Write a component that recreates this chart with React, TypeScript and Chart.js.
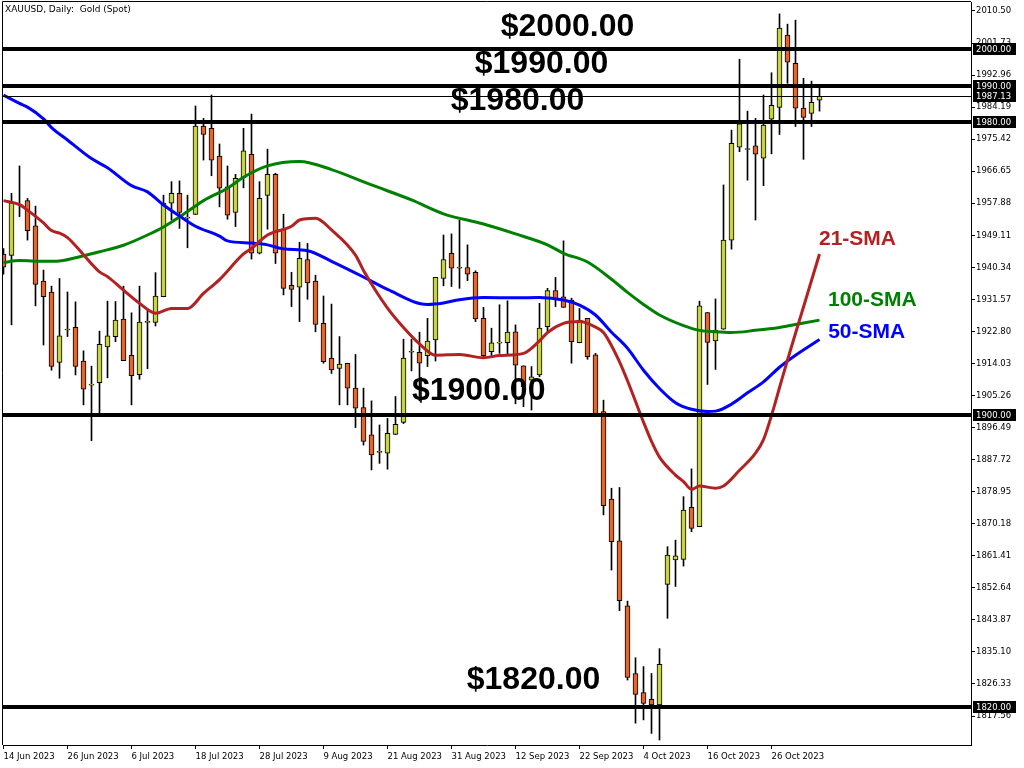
import React, { useEffect, useRef } from 'react';
import { Chart, registerables } from 'chart.js';

Chart.register(...registerables);

// ---------------- DATA ----------------
const chartTitle = 'XAUUSD, Daily:  Gold (Spot)';

const dateTickBars = [0, 8, 16, 24, 32, 40, 48, 56, 64, 72, 80, 88, 96];
const dateTickLabels = [
  '14 Jun 2023', '26 Jun 2023', '6 Jul 2023', '18 Jul 2023', '28 Jul 2023', '9 Aug 2023',
  '21 Aug 2023', '31 Aug 2023', '12 Sep 2023', '22 Sep 2023', '4 Oct 2023', '16 Oct 2023', '26 Oct 2023',
];

const priceTicks = [
  2010.5, 2001.73, 1992.96, 1984.19, 1975.42, 1966.65, 1957.88, 1949.11, 1940.34, 1931.57, 1922.8,
  1914.03, 1905.26, 1896.49, 1887.72, 1878.95, 1870.18, 1861.41, 1852.64, 1843.87, 1835.1, 1826.33, 1817.56,
];

const opens = [
  1944.0, 1943.6, 1957.4, 1958.6, 1951.7, 1936.6, 1933.6, 1914.3, 1923.2, 1923.9,
  1914.7, 1908.1, 1908.8, 1918.6, 1921.4, 1926.2, 1916.3, 1911.0, 1925.3, 1925.3,
  1932.3, 1957.9, 1960.6, 1953.8, 1954.8, 1979.0, 1978.4, 1970.8, 1962.4, 1955.4,
  1964.9, 1971.3, 1944.2, 1960.0, 1965.8, 1950.8, 1935.4, 1934.9, 1942.5, 1936.6,
  1925.0, 1915.5, 1912.7, 1914.1, 1907.3, 1902.0, 1894.5, 1889.7, 1889.5, 1894.6,
  1897.9, 1917.1, 1917.1, 1916.2, 1920.5, 1937.3, 1944.2, 1940.1, 1940.3, 1939.0,
  1926.4, 1917.3, 1919.6, 1919.7, 1922.7, 1913.4, 1909.5, 1910.9, 1924.1, 1934.0,
  1932.3, 1931.4, 1919.7, 1926.4, 1916.4, 1900.9, 1876.9, 1865.5, 1847.7, 1829.2,
  1824.0, 1822.1, 1820.6, 1853.6, 1860.3, 1860.4, 1874.7, 1869.4, 1928.0, 1920.2,
  1923.4, 1947.8, 1973.2, 1972.6, 1973.6, 1970.2, 1980.9, 1984.1, 2003.9, 1996.2,
  1983.9, 1982.5, 1986.1,
];
const highs = [
  1945.5, 1960.6, 1968.1, 1959.2, 1957.1, 1939.6, 1935.2, 1937.3, 1933.6, 1930.9,
  1917.5, 1913.3, 1922.9, 1931.1, 1931.0, 1935.2, 1927.9, 1935.2, 1928.5, 1938.9,
  1960.1, 1963.8, 1964.0, 1960.1, 1984.5, 1981.1, 1987.5, 1974.1, 1968.1, 1965.8,
  1978.4, 1982.3, 1963.8, 1972.7, 1966.1, 1954.9, 1939.0, 1947.2, 1946.9, 1938.2,
  1932.5, 1930.3, 1921.4, 1914.1, 1916.5, 1907.3, 1903.8, 1897.2, 1899.0, 1905.0,
  1920.7, 1920.7, 1922.6, 1926.4, 1937.6, 1949.2, 1949.5, 1953.3, 1946.5, 1939.4,
  1929.4, 1923.7, 1930.1, 1931.2, 1924.6, 1913.4, 1913.2, 1930.5, 1934.6, 1937.6,
  1947.6, 1931.9, 1929.1, 1926.4, 1916.8, 1904.0, 1879.9, 1880.1, 1849.0, 1833.5,
  1831.1, 1829.2, 1836.0, 1863.9, 1865.7, 1877.6, 1885.2, 1931.1, 1928.0, 1931.7,
  1962.9, 1977.9, 1997.3, 1983.1, 1981.1, 1987.5, 1993.6, 2009.7, 2006.9, 2008.0,
  1992.1, 1991.3, 1989.5,
];
const lows = [
  1938.5, 1924.6, 1954.2, 1947.8, 1929.8, 1919.1, 1912.2, 1910.0, 1921.4, 1910.9,
  1902.7, 1892.9, 1900.4, 1910.1, 1920.0, 1914.8, 1902.7, 1909.7, 1912.6, 1924.3,
  1932.3, 1953.3, 1951.0, 1945.7, 1954.8, 1969.7, 1965.4, 1956.9, 1953.5, 1951.5,
  1962.1, 1942.6, 1944.0, 1950.8, 1941.4, 1932.8, 1929.6, 1925.5, 1931.6, 1922.7,
  1914.1, 1911.3, 1902.7, 1902.7, 1896.5, 1891.7, 1884.9, 1886.7, 1885.1, 1894.6,
  1897.6, 1912.0, 1903.8, 1913.2, 1914.7, 1935.3, 1935.1, 1934.6, 1936.7, 1925.5,
  1915.9, 1915.9, 1916.8, 1916.6, 1903.0, 1902.2, 1901.3, 1910.4, 1922.7, 1929.6,
  1929.4, 1914.1, 1919.7, 1915.2, 1899.5, 1872.6, 1857.5, 1846.4, 1827.4, 1815.6,
  1816.5, 1812.8, 1811.0, 1844.3, 1853.0, 1858.6, 1868.0, 1869.4, 1908.3, 1912.4,
  1923.4, 1945.3, 1972.0, 1964.2, 1953.3, 1962.7, 1971.4, 1976.7, 1990.7, 1978.9,
  1969.9, 1978.9, 1983.1,
];
const closes = [
  1940.4, 1958.0, 1957.4, 1950.4, 1935.7, 1932.3, 1913.2, 1921.6, 1923.2, 1913.2,
  1907.0, 1908.1, 1919.3, 1921.6, 1925.9, 1914.8, 1910.7, 1925.4, 1925.3, 1932.5,
  1957.9, 1960.6, 1955.4, 1953.8, 1979.0, 1976.7, 1969.7, 1962.0, 1954.6, 1964.7,
  1972.2, 1944.2, 1959.2, 1965.8, 1944.2, 1934.6, 1934.3, 1942.8, 1936.1, 1924.7,
  1914.5, 1912.3, 1913.9, 1907.3, 1901.8, 1892.7, 1889.0, 1889.7, 1894.9, 1897.4,
  1915.5, 1917.1, 1914.1, 1920.2, 1937.6, 1942.5, 1940.1, 1940.1, 1938.5, 1926.2,
  1916.2, 1919.7, 1919.6, 1922.6, 1913.6, 1907.7, 1910.4, 1923.7, 1934.0, 1931.4,
  1929.4, 1920.0, 1925.9, 1915.9, 1900.0, 1875.1, 1865.3, 1849.1, 1828.1, 1823.5,
  1821.0, 1820.6, 1831.7, 1861.6, 1861.4, 1873.9, 1868.9, 1929.8, 1919.8, 1923.2,
  1947.8, 1974.3, 1979.6, 1972.6, 1971.3, 1979.3, 1984.7, 2005.8, 1996.5, 1983.9,
  1981.4, 1985.5, 1987.13,
];

const sma21Bars = [0, 2, 3, 5, 6, 7, 8, 10, 11, 12, 13, 15, 17, 19, 21, 23, 25, 27, 30, 31, 33, 36, 37, 39, 41, 44, 45, 48, 50, 52, 54, 57, 60, 62, 65, 67, 68, 70, 72, 74, 75, 77, 78, 80, 81, 82, 84, 85, 86, 87, 89, 90, 92, 94, 95, 96, 97, 98, 100, 102];
const sma21Values = [1958.6, 1957.5, 1956.0, 1952.5, 1950.4, 1949.7, 1948.5, 1943.8, 1941.3, 1939.1, 1937.8, 1934.1, 1930.5, 1927.8, 1929.1, 1929.1, 1933.2, 1937.0, 1944.0, 1945.5, 1949.2, 1951.6, 1953.3, 1953.8, 1950.6, 1943.7, 1939.5, 1929.2, 1923.9, 1919.4, 1916.3, 1916.5, 1915.6, 1916.2, 1916.8, 1920.2, 1922.5, 1925.0, 1925.5, 1924.0, 1922.5, 1914.5, 1909.3, 1898.0, 1892.7, 1888.4, 1883.5, 1881.7, 1879.6, 1880.5, 1879.9, 1880.5, 1884.8, 1889.5, 1893.2, 1899.8, 1907.4, 1915.0, 1929.5, 1944.0];

const sma50Bars = [0, 2, 3, 5, 6, 8, 11, 13, 16, 18, 20, 22, 24, 27, 28, 31, 33, 35, 38, 41, 45, 48, 53, 55, 57, 60, 64, 67, 70, 72, 74, 76, 78, 80, 82, 84, 86, 88, 89, 91, 93, 95, 97, 99, 102];
const sma50Values = [1987.5, 1985.2, 1984.2, 1981.0, 1978.6, 1975.2, 1970.1, 1967.6, 1962.7, 1961.0, 1957.4, 1954.4, 1951.6, 1948.9, 1947.6, 1947.0, 1946.5, 1945.4, 1944.9, 1942.0, 1937.7, 1934.3, 1930.2, 1930.6, 1931.5, 1932.1, 1932.0, 1932.1, 1931.4, 1930.0, 1927.3, 1922.6, 1918.2, 1912.2, 1907.2, 1903.3, 1901.5, 1900.9, 1901.0, 1902.9, 1906.0, 1909.0, 1913.0, 1916.3, 1920.6];

const sma100Bars = [0, 2, 5, 7, 10, 12, 15, 18, 20, 23, 25, 28, 30, 33, 37, 41, 46, 51, 55, 60, 64, 68, 70, 73, 76, 78, 80, 82, 85, 87, 89, 91, 94, 97, 98, 102];
const sma100Values = [1941.7, 1942.2, 1942.0, 1942.1, 1943.5, 1944.6, 1946.4, 1949.2, 1951.4, 1955.6, 1958.6, 1962.0, 1965.0, 1968.1, 1969.3, 1967.1, 1962.9, 1958.8, 1955.0, 1952.2, 1949.5, 1946.5, 1944.2, 1941.8, 1937.1, 1933.5, 1930.2, 1927.3, 1924.4, 1923.1, 1922.7, 1922.5, 1923.1, 1923.9, 1924.3, 1925.9];

const levelPrices = [2000, 1990, 1980, 1900, 1820];
const levelTexts = ['$2000.00', '$1990.00', '$1980.00', '$1900.00', '$1820.00'];
const lastPrice = 1987.13;
const axisMarkedPrices = [2000, 1990, 1987.13, 1980, 1900, 1820];
const smaNames = ['21-SMA', '100-SMA', '50-SMA'];

// ---------------- STYLE ----------------
const BULL = '#C8D43C';
const BEAR = '#E8622C';
const RED = '#B22222';
const BLUE = '#0000FF';
const GREEN = '#008000';
const AXIS_FONT = { family: '"DejaVu Sans", Verdana, sans-serif', size: 8.5 };

// anchors for annotation texts (bar index, price)
const levelTextAnchors = [
  [70.5, 2006.1],
  [67.25, 1996.0],
  [64.25, 1985.9],
  [59.4, 1906.4],
  [66.25, 1827.4],
];
const smaTextAnchors = [
  [106.75, 1948.1],
  [108.6, 1931.4],
  [107.9, 1922.7],
];
const smaTextColors = [RED, GREEN, BLUE];

const overlayPlugin = {
  id: 'overlay',
  afterDatasetsDraw(chart: any) {
    const { ctx, chartArea, scales } = chart;
    const xs = scales.x;
    const ys = scales.y;
    const { left, right, top, bottom } = chartArea;
    ctx.save();
    ctx.beginPath();
    ctx.rect(left, top, right - left, bottom - top);
    ctx.clip();
    ctx.strokeStyle = '#000';
    ctx.lineWidth = 1;
    const ly = Math.round(ys.getPixelForValue(lastPrice)) + 0.5;
    ctx.beginPath();
    ctx.moveTo(left, ly);
    ctx.lineTo(right, ly);
    ctx.stroke();
    ctx.lineWidth = 4;
    levelPrices.forEach((p) => {
      const py = Math.round(ys.getPixelForValue(p));
      ctx.beginPath();
      ctx.moveTo(left, py);
      ctx.lineTo(right, py);
      ctx.stroke();
    });
    ctx.font = 'bold 32px "Liberation Sans", Arial, sans-serif';
    ctx.textAlign = 'center';
    ctx.textBaseline = 'middle';
    ctx.fillStyle = '#000';
    levelTexts.forEach((t, k) => {
      const [b, p] = levelTextAnchors[k];
      ctx.fillText(t, xs.getPixelForValue(b), ys.getPixelForValue(p));
    });
    ctx.font = 'bold 21px "Liberation Sans", Arial, sans-serif';
    smaNames.forEach((t, k) => {
      const [b, p] = smaTextAnchors[k];
      ctx.fillStyle = smaTextColors[k];
      ctx.fillText(t, xs.getPixelForValue(b), ys.getPixelForValue(p));
    });
    ctx.restore();
  },
  afterDraw(chart: any) {
    const { ctx, chartArea, scales } = chart;
    const ys = scales.y;
    const { left, right, top, bottom } = chartArea;
    ctx.save();
    ctx.strokeStyle = '#000';
    ctx.lineWidth = 1;
    ctx.beginPath();
    ctx.moveTo(left - 0.5, bottom);
    ctx.lineTo(left - 0.5, top - 0.5);
    ctx.lineTo(right, top - 0.5);
    ctx.stroke();
    ctx.fillStyle = '#000';
    ctx.font = '9px "DejaVu Sans", Verdana, sans-serif';
    ctx.textAlign = 'left';
    ctx.textBaseline = 'middle';
    ctx.fillText(chartTitle, left + 2, top + 8);
    ctx.font = '8.5px "DejaVu Sans", Verdana, sans-serif';
    axisMarkedPrices.forEach((v) => {
      const py = Math.round(ys.getPixelForValue(v));
      ctx.fillStyle = '#000';
      ctx.fillRect(right + 2, py - 6, 43, 12);
      ctx.fillStyle = '#fff';
      ctx.fillText(v.toFixed(2), right + 5, py + 0.5);
    });
    ctx.restore();
  },
};

export default function App() {
  const canvasRef = useRef<HTMLCanvasElement | null>(null);

  useEffect(() => {
    const canvas = canvasRef.current;
    if (!canvas) return;
    const n = opens.length;
    const idx = Array.from({ length: n }, (_, i) => i);
    const chart = new Chart(canvas, {
      type: 'bar',
      data: {
        datasets: [
          {
            type: 'line',
            label: 'SMA21',
            data: sma21Bars.map((b, k) => ({ x: b, y: sma21Values[k] })),
            borderColor: RED,
            borderWidth: 3,
            pointRadius: 0,
            cubicInterpolationMode: 'monotone',
            order: 1,
          },
          {
            type: 'line',
            label: 'SMA50',
            data: sma50Bars.map((b, k) => ({ x: b, y: sma50Values[k] })),
            borderColor: BLUE,
            borderWidth: 3,
            pointRadius: 0,
            cubicInterpolationMode: 'monotone',
            order: 1,
          },
          {
            type: 'line',
            label: 'SMA100',
            data: sma100Bars.map((b, k) => ({ x: b, y: sma100Values[k] })),
            borderColor: GREEN,
            borderWidth: 3,
            pointRadius: 0,
            cubicInterpolationMode: 'monotone',
            order: 1,
          },
          {
            type: 'bar',
            label: 'bodies',
            data: idx.map((i) => ({ x: i, y: [opens[i], closes[i]] })) as any,
            backgroundColor: idx.map((i) => (closes[i] >= opens[i] ? BULL : BEAR)),
            borderColor: '#000',
            borderWidth: 1,
            borderSkipped: false,
            barThickness: 5,
            minBarLength: 1,
            grouped: false,
            order: 2,
          },
          {
            type: 'bar',
            label: 'wicks',
            data: idx.map((i) => ({ x: i, y: [lows[i], highs[i]] })) as any,
            backgroundColor: '#000',
            borderWidth: 0,
            barThickness: 1,
            grouped: false,
            order: 3,
          },
        ] as any,
      },
      options: {
        responsive: false,
        animation: false,
        events: [],
        layout: { padding: { left: 3, top: 2, right: 0, bottom: 0 } },
        plugins: { legend: { display: false }, tooltip: { enabled: false }, title: { display: false } },
        scales: {
          x: {
            type: 'linear',
            position: 'bottom',
            offset: false,
            min: -0.0625,
            max: 120.9375,
            afterFit: (s: any) => { s.height = 23; s.paddingLeft = 0; s.paddingRight = 0; },
            afterBuildTicks: (s: any) => { s.ticks = dateTickBars.map((v) => ({ value: v })); },
            grid: { display: true, drawOnChartArea: false, drawTicks: true, tickLength: 4, color: '#000', offset: false },
            border: { display: true, color: '#000', width: 1 },
            ticks: {
              autoSkip: false,
              maxRotation: 0,
              align: 'start',
              padding: 3,
              color: '#000',
              font: AXIS_FONT,
              callback: (v: any) => {
                const k = dateTickBars.indexOf(Number(v));
                return k >= 0 ? dateTickLabels[k] : '';
              },
            },
          },
          y: {
            type: 'linear',
            position: 'right',
            min: 1809.63,
            max: 2012.96,
            afterFit: (s: any) => { s.width = 53; s.paddingTop = 0; s.paddingBottom = 0; },
            afterBuildTicks: (s: any) => { s.ticks = priceTicks.map((v) => ({ value: v })); },
            grid: { display: true, drawOnChartArea: false, drawTicks: true, tickLength: 4, color: '#000' },
            border: { display: true, color: '#000', width: 1 },
            ticks: {
              autoSkip: false,
              padding: 1,
              color: '#000',
              font: AXIS_FONT,
              callback: (v: any) => Number(v).toFixed(2),
            },
          },
        },
      } as any,
      plugins: [overlayPlugin],
    });
    return () => chart.destroy();
  }, []);

  return (
    <div style={{ position: 'fixed', left: 0, top: 0, width: 1024, height: 768, background: '#fff' }}>
      <canvas ref={canvasRef} width={1024} height={768} style={{ display: 'block' }} />
    </div>
  );
}
